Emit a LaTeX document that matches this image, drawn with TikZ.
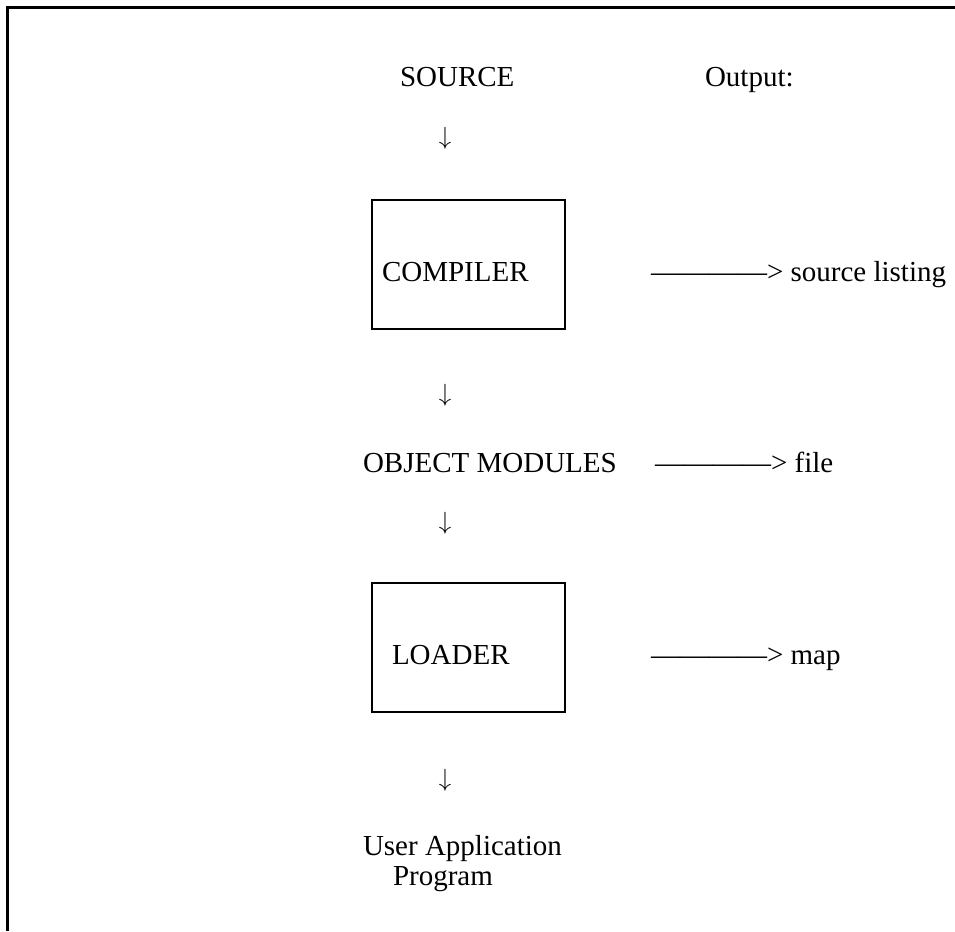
\documentclass[tikz,border=0pt]{standalone}
\usepackage{fontspec}
\setmainfont{Liberation Serif}
\usepackage{tikz}
\usetikzlibrary{positioning}

\begin{document}
\begin{tikzpicture}[
  x=1pt,y=-1pt,
  every node/.style={font=\fontsize{29}{30}\selectfont,inner sep=0pt,outer sep=0pt},
  txt/.style={anchor=base west,align=left},
  down/.style={anchor=center,font=\fontsize{25}{25}\selectfont},
  box/.style={draw,line width=2.5pt,anchor=north west,minimum width=193pt,minimum height=129pt},
  frame/.style={line width=3pt}
]
\useasboundingbox (0,0) rectangle (955,931);
\draw[frame] (7.5,931) -- (7.5,7.5) -- (955,7.5);

\node[txt] (source) at (400,87) {SOURCE};
\node[txt] (output) at (705,87) {Output:};
\node[down] (d1) at (445,138) {$\downarrow$};

\node[box] (compiler) at (372,200) {};
\node[txt] (compilerlbl) at (382,281) {COMPILER};
\node[txt] (listing) at (651,281) {————> source listing};

\node[down] (d2) at (445,395) {$\downarrow$};
\node[txt] (objmod) at (363,472) {OBJECT MODULES};
\node[txt] (file) at (655,472) {————> file};
\node[down] (d3) at (445,523) {$\downarrow$};

\node[box] (loader) at (372,583) {};
\node[txt] (loaderlbl) at (392,664) {LOADER};
\node[txt] (map) at (651,664) {————> map};

\node[down] (d4) at (445,780) {$\downarrow$};
% base anchor sits on the last line
\node[txt] (userapp) at (363,885) {User Application\\\hspace*{30pt}Program};
\end{tikzpicture}
\end{document}
